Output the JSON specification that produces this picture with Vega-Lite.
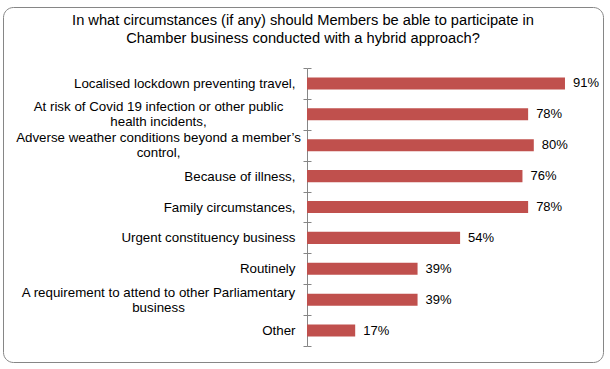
{
  "$schema": "https://vega.github.io/schema/vega-lite/v6.json",
  "autosize": "none",
  "width": 600,
  "height": 355,
  "padding": {"left": 3, "top": 7, "right": 7, "bottom": 7},
  "background": "white",
  "title": {
    "text": ["In what circumstances (if any) should Members be able to participate in", "Chamber business conducted with a hybrid approach?"],
    "font": "Liberation Sans",
    "fontSize": 14.67,
    "fontWeight": "normal",
    "color": "#000000",
    "lineHeight": 18,
    "anchor": "middle",
    "frame": "group",
    "baseline": "top",
    "offset": -5,
    "dy": 41
  },
  "data": {
    "values": [
      {"item": "Localised lockdown preventing travel,", "share": 0.91},
      {"item": "At risk of Covid 19 infection or other public\nhealth incidents,", "share": 0.78},
      {"item": "Adverse weather conditions beyond a member’s\ncontrol,", "share": 0.80},
      {"item": "Because of illness,", "share": 0.76},
      {"item": "Family circumstances,", "share": 0.78},
      {"item": "Urgent constituency business", "share": 0.54},
      {"item": "Routinely", "share": 0.39},
      {"item": "A requirement to attend to other Parliamentary\nbusiness", "share": 0.39},
      {"item": "Other", "share": 0.17}
    ]
  },
  "encoding": {
    "y": {
      "field": "item",
      "type": "nominal",
      "sort": null,
      "scale": {"paddingInner": 0, "paddingOuter": 0, "range": [61, 339]}
    },
    "x": {
      "field": "share",
      "type": "quantitative",
      "scale": {"domain": [-1.0723, 1.0441], "nice": false, "zero": false},
      "axis": null
    }
  },
  "layer": [
    {
      "mark": {"type": "bar", "color": "#C0504D", "height": {"band": 0.39}},
      "encoding": {
        "x2": {"datum": 0},
        "y": {
          "field": "item",
          "type": "nominal",
          "sort": null,
          "axis": {
            "orient": "left",
            "offset": -304,
            "title": null,
            "domainColor": "#868686",
            "tickColor": "#868686",
            "tickSize": 4,
            "tickBand": "extent",
            "labelFont": "Liberation Sans",
            "labelFontSize": 13.33,
            "labelColor": "#000000",
            "labelLimit": 400,
            "labelOverlap": false,
            "labelLineHeight": 15,
            "labelExpr": "datum.value ? split(datum.value, '\\n') : ''",
            "labelAlign": {"condition": {"test": "datum.value && indexof(datum.value, '\\n') >= 0", "value": "center"}, "value": "right"},
            "labelPadding": {"condition": {"test": "datum.value && indexof(datum.value, '\\n') >= 0", "value": 145}, "value": 8},
            "labelOffset": {"condition": {"test": "datum.value && indexof(datum.value, '\\n') >= 0", "value": -7.5}, "value": 0}
          }
        }
      }
    },
    {
      "mark": {"type": "text", "align": "left", "baseline": "middle", "dx": 8, "font": "Liberation Sans", "fontSize": 13, "color": "#000000"},
      "encoding": {
        "text": {"field": "share", "type": "quantitative", "format": ".0%"},
        "y": {
          "field": "item",
          "type": "nominal",
          "sort": null,
          "axis": {
            "orient": "right",
            "offset": -296,
            "title": null,
            "domain": false,
            "labels": false,
            "tickColor": "#868686",
            "tickSize": 4,
            "tickBand": "extent"
          }
        }
      }
    }
  ],
  "resolve": {"axis": {"y": "independent"}},
  "config": {
    "view": {"stroke": "#868686", "strokeWidth": 1, "cornerRadius": 10}
  }
}
